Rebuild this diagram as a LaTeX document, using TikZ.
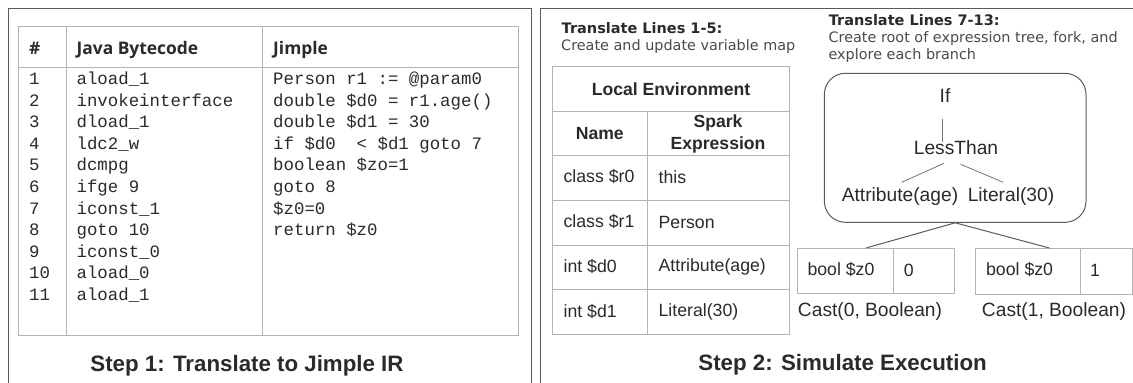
\documentclass[tikz,border=0pt]{standalone}
\usepackage{fontspec}
\setmainfont{Liberation Sans}
\setmonofont{Liberation Mono}
\newfontfamily\headfont{Open Sans}
\newfontfamily\notefont{DejaVu Sans}
\definecolor{txt}{HTML}{2A2A2A}
\definecolor{grid}{HTML}{B4B4B4}
\definecolor{panel}{HTML}{5A5A5A}
\tikzset{
  gridline/.style={draw=grid,line width=1pt},
  panelline/.style={draw=panel,line width=1pt},
  treeline/.style={draw=panel!85,line width=.8pt},
  code/.style={anchor=base west,inner sep=0pt,text=txt,font=\ttfamily\fontsize{17.4}{20}\selectfont},
  thead/.style={anchor=base west,inner sep=0pt,text=txt,font=\headfont\bfseries\fontsize{17.4}{20}\selectfont},
  steptitle/.style={inner sep=0pt,text=txt,font=\bfseries\fontsize{22.3}{26}\selectfont},
  cell/.style={inner sep=0pt,text=txt,font=\fontsize{17.7}{20}\selectfont},
  cellb/.style={inner sep=0pt,text=txt,font=\bfseries\fontsize{17.6}{20}\selectfont},
  big/.style={inner sep=0pt,text=txt,font=\fontsize{19.2}{22}\selectfont},
  note/.style={anchor=base west,inner sep=0pt,text=txt!85,font=\notefont\fontsize{14.4}{16}\selectfont},
  noteb/.style={anchor=base west,inner sep=0pt,text=txt,font=\notefont\bfseries\fontsize{14.5}{16}\selectfont},
}
\begin{document}
\begin{tikzpicture}[x=1pt,y=-1pt]
\useasboundingbox (0,0) rectangle (1133,383);
% panels
\draw[panelline] (8,383) -- (8,8.5) -- (531,8.5) -- (531,383);
\draw[panelline] (540.5,383) -- (540.5,8.5) -- (1133,8.5);
% left table
\draw[gridline] (18,26) rectangle (518,335);
\draw[gridline] (18,67) -- (518,67);
\draw[gridline] (66,26) -- (66,335);
\draw[gridline] (262,26) -- (262,335);
\node[thead] (hnum) at (29,54) {\#};
\node[thead] (hjava) at (76.4,54) {Java Bytecode};
\node[thead] (hjimple) at (273,54) {Jimple};
\foreach \t [count=\i] in {1,2,3,4,5,6,7,8,9,10,11}
  \node[code] (n\i) at (29,{84.6+21.57*(\i-1)}) {\t};
\foreach \t [count=\i] in {aload\_1,invokeinterface,dload\_1,ldc2\_w,dcmpg,ifge 9,iconst\_1,goto 10,iconst\_0,aload\_0,aload\_1}
  \node[code] (b\i) at (76.4,{84.6+21.57*(\i-1)}) {\t};
\foreach \t [count=\i] in {Person r1 := @param0,double \$d0 = r1.age(),double \$d1 = 30,if \$d0\ \ < \$d1 goto 7,boolean \$zo=1,goto 8,\$z0=0,return \$z0}
  \node[code] (j\i) at (273,{84.6+21.57*(\i-1)}) {\t};
\node[steptitle] (step1) at (247,366) {Step 1: Translate to Jimple IR};
% notes
\node[noteb] (n1a) at (561.5,33) {Translate Lines 1-5:};
\node[note] (n1b) at (561,50) {Create and update variable map};
\node[noteb] (n2a) at (828.6,25.5) {Translate Lines 7-13:};
\node[note] (n2b) at (828.4,42.5) {Create root of expression tree, fork, and};
\node[note] (n2c) at (828.4,59.5) {explore each branch};
% environment table
\draw[gridline] (552.5,66.7) rectangle (789.6,334);
\foreach \yy in {111.3,155,200.7,245,289.3}
  \draw[gridline] (552.5,\yy) -- (789.6,\yy);
\draw[gridline] (647.4,111.3) -- (647.4,334);
\node[cellb] (env) at (671,89.3) {Local Environment};
\node[cellb] (name) at (599.8,134) {Name};
\node[cellb] (spark) at (718,123.3) {Spark};
\node[cellb] (expr) at (718,145) {Expression};
\node[cell,anchor=west] (v0) at (563.4,177) {class \$r0};
\node[cell,anchor=west] (e0) at (658.4,177) {this};
\node[cell,anchor=west] (v1) at (563.4,222) {class \$r1};
\node[cell,anchor=west] (e1) at (658.4,222) {Person};
\node[cell,anchor=west] (v2) at (563.4,267) {int \$d0};
\node[cell,anchor=west] (e2) at (658.4,267) {Attribute(age)};
\node[cell,anchor=west] (v3) at (563.4,312) {int \$d1};
\node[cell,anchor=west] (e3) at (658.4,312) {Literal(30)};
% tree box
\node[draw=panel,line width=1pt,rounded corners=21pt,minimum width=261.6pt,minimum height=149pt,inner sep=0pt] (root) at (955.2,147.8) {};
\node[big] (if) at (945,96) {If};
\node[big] (lt) at (956,148) {LessThan};
\node[big] (attr) at (900,196.7) {Attribute(age)};
\node[big] (lit) at (1011,196.7) {Literal(30)};
\coordinate (ifb) at (942,119);
\coordinate (ltt) at (942,141.7);
\coordinate (ltl) at (944,163.3);
\coordinate (ltr) at (960.6,164.3);
\coordinate (attrt) at (901.6,182.3);
\coordinate (litt) at (1003.3,182.3);
\draw[treeline] (ifb) -- (ltt);
\draw[treeline] (ltl) -- (attrt);
\draw[treeline] (ltr) -- (litt);
% branch boxes
\node[gridline,draw,minimum width=96.2pt,minimum height=45.3pt,inner sep=0pt] (lv) at (845.1,270.7) {};
\node[gridline,draw,minimum width=60.8pt,minimum height=45.3pt,inner sep=0pt] (lw) at (923.6,270.7) {};
\node[gridline,draw,minimum width=104.3pt,minimum height=46pt,inner sep=0pt] (rv) at (1027.9,271) {};
\node[gridline,draw,minimum width=52.5pt,minimum height=46pt,inner sep=0pt] (rw) at (1106.3,271) {};
\node[cell] (lvt) at (841,270) {bool \$z0};
\node[cell] (lwt) at (908.8,270) {0};
\node[cell] (rvt) at (1019.6,270) {bool \$z0};
\node[cell] (rwt) at (1095,270) {1};
\coordinate (lj) at (866,248);
\coordinate (rj) at (1049.4,248);
\draw[panelline] (lj) -- (root.south) -- (rj);
\node[big] (castl) at (870,311.7) {Cast(0, Boolean)};
\node[big] (castr) at (1054,311.7) {Cast(1, Boolean)};
\node[steptitle] (step2) at (842.6,365) {Step 2: Simulate Execution};
\end{tikzpicture}
\end{document}
